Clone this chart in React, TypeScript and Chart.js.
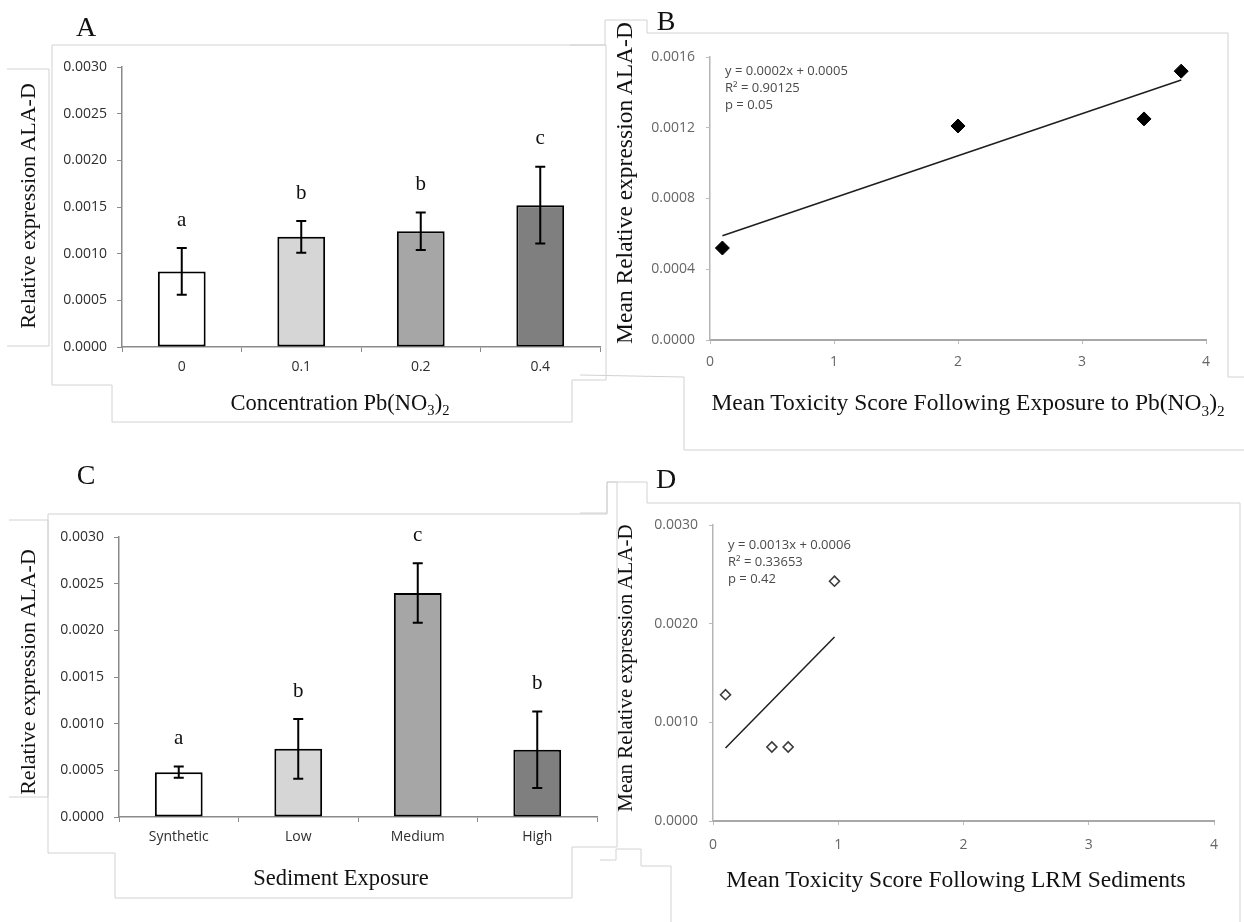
import React, { useEffect, useRef } from "react";
import { Chart, registerables } from "chart.js";

Chart.register(...registerables);

// A: ALA-D expression by Pb(NO3)2 concentration
const concentrationLabels = ["0", "0.1", "0.2", "0.4"];
const concentrationMeans = [0.00081, 0.00118, 0.00124, 0.00152];
const concentrationErrors = [0.00025, 0.00017, 0.0002, 0.00041];
const concentrationGroups = ["a", "b", "b", "c"];

// C: ALA-D expression by sediment exposure
const sedimentLabels = ["Synthetic", "Low", "Medium", "High"];
const sedimentMeans = [0.00048, 0.00073, 0.0024, 0.00072];
const sedimentErrors = [0.00006, 0.00032, 0.00032, 0.00041];
const sedimentGroups = ["a", "b", "c", "b"];

// B: mean expression vs. toxicity score, Pb(NO3)2
const leadToxicity = [0.1, 2.0, 3.5, 3.8];
const leadExpression = [0.00052, 0.00121, 0.00125, 0.00152];
const leadFitText = ["y = 0.0002x + 0.0005", "R\u00b2 = 0.90125", "p = 0.05"];

// D: mean expression vs. toxicity score, LRM sediments
const lrmToxicity = [0.1, 0.47, 0.6, 0.97];
const lrmExpression = [0.00128, 0.00075, 0.00075, 0.00243];
const lrmFitText = ["y = 0.0013x + 0.0006", "R\u00b2 = 0.33653", "p = 0.42"];

// axis ranges
const barAxisMax = 0.003;
const barAxisStep = 0.0005;
const leadAxisMax = 0.0016;
const leadAxisStep = 0.0004;
const lrmAxisMax = 0.003;
const lrmAxisStep = 0.001;
const toxicityAxisMax = 4;

const barFills = ["#ffffff", "#d6d6d6", "#a6a6a6", "#7f7f7f"];

const TICK_FONT = { family: '"Open Sans", sans-serif', size: 14 };

function fitLine(xs: number[], ys: number[]) {
  const n = xs.length;
  const mx = xs.reduce((a, b) => a + b, 0) / n;
  const my = ys.reduce((a, b) => a + b, 0) / n;
  let sxy = 0;
  let sxx = 0;
  for (let i = 0; i < n; i++) {
    sxy += (xs[i] - mx) * (ys[i] - my);
    sxx += (xs[i] - mx) * (xs[i] - mx);
  }
  const slope = sxy / sxx;
  return { slope, intercept: my - slope * mx };
}

function errorBarPlugin(errors: number[], groups: string[]) {
  return {
    id: "errorBars",
    afterDatasetsDraw(chart: any) {
      const { ctx } = chart;
      const meta = chart.getDatasetMeta(0);
      const yScale = chart.scales.y;
      const values = chart.data.datasets[0].data as number[];
      ctx.save();
      ctx.strokeStyle = "#000";
      ctx.lineWidth = 2;
      meta.data.forEach((bar: any, i: number) => {
        const top = yScale.getPixelForValue(values[i] + errors[i]);
        const bottom = yScale.getPixelForValue(values[i] - errors[i]);
        const x = bar.x;
        ctx.beginPath();
        ctx.moveTo(x, top);
        ctx.lineTo(x, bottom);
        ctx.moveTo(x - 5, top);
        ctx.lineTo(x + 5, top);
        ctx.moveTo(x - 5, bottom);
        ctx.lineTo(x + 5, bottom);
        ctx.stroke();
        ctx.fillStyle = "#111";
        ctx.font = '21px "Liberation Serif", serif';
        ctx.textAlign = "center";
        ctx.textBaseline = "middle";
        ctx.fillText(groups[i], x, top - 28);
      });
      ctx.restore();
    },
  };
}

function fitTextPlugin(lines: string[], dx: number, dy: number, step: number) {
  return {
    id: "fitText",
    afterDatasetsDraw(chart: any) {
      const { ctx, chartArea } = chart;
      ctx.save();
      ctx.font = '13px "Open Sans", sans-serif';
      ctx.fillStyle = "#4a4a4a";
      ctx.textAlign = "left";
      ctx.textBaseline = "middle";
      lines.forEach((t, i) => ctx.fillText(t, chartArea.left + dx, chartArea.top + dy + i * step));
      ctx.restore();
    },
  };
}

function barConfig(
  labels: string[],
  means: number[],
  errors: number[],
  groups: string[],
  box: { top: number; right: number; yWidth: number; xHeight: number }
): any {
  return {
    type: "bar",
    data: {
      labels,
      datasets: [
        {
          data: means,
          backgroundColor: barFills,
          borderColor: "#000",
          borderWidth: 2,
          borderSkipped: false,
          barPercentage: 0.4,
          categoryPercentage: 1,
        },
      ],
    },
    options: {
      animation: false,
      responsive: false,
      maintainAspectRatio: false,
      layout: { padding: { top: box.top, right: box.right, left: 0, bottom: 0 } },
      plugins: { legend: { display: false }, tooltip: { enabled: false } },
      scales: {
        x: {
          grid: { drawOnChartArea: false, drawTicks: true, tickLength: 5, color: "#8a8a8a", offset: true },
          border: { color: "#8a8a8a", width: 1.5 },
          ticks: { font: TICK_FONT, color: "#2e2e2e", padding: 7 },
          afterFit: (s: any) => {
            s.height = box.xHeight;
          },
        },
        y: {
          min: 0,
          max: barAxisMax,
          grid: { drawOnChartArea: false, drawTicks: true, tickLength: 5, color: "#8a8a8a" },
          border: { color: "#8a8a8a", width: 1.5 },
          ticks: {
            stepSize: barAxisStep,
            font: TICK_FONT,
            color: "#2e2e2e",
            padding: 10,
            callback: (v: number) => v.toFixed(4),
          },
          afterFit: (s: any) => {
            s.width = box.yWidth;
          },
        },
      },
    },
    plugins: [errorBarPlugin(errors, groups)],
  };
}

function scatterConfig(
  xs: number[],
  ys: number[],
  yMax: number,
  yStep: number,
  filled: boolean,
  fitText: string[],
  textOffset: number,
  box: { top: number; right: number; yWidth: number; xHeight: number; xPad: number }
): any {
  const { slope, intercept } = fitLine(xs, ys);
  const x0 = Math.min(...xs);
  const x1 = Math.max(...xs);
  return {
    type: "scatter",
    data: {
      datasets: [
        {
          data: xs.map((x, i) => ({ x, y: ys[i] })),
          pointStyle: "rectRot",
          pointRadius: filled ? 7 : 5,
          backgroundColor: filled ? "#000" : "#fff",
          borderColor: filled ? "#000" : "#3a3a3a",
          borderWidth: filled ? 1 : 1.6,
        },
        {
          data: [
            { x: x0, y: intercept + slope * x0 },
            { x: x1, y: intercept + slope * x1 },
          ],
          showLine: true,
          pointRadius: 0,
          borderColor: "#1e1e1e",
          borderWidth: 1.5,
        },
      ],
    },
    options: {
      animation: false,
      responsive: false,
      maintainAspectRatio: false,
      layout: { padding: { top: box.top, right: box.right, left: 0, bottom: 0 } },
      plugins: { legend: { display: false }, tooltip: { enabled: false } },
      scales: {
        x: {
          type: "linear",
          min: 0,
          max: toxicityAxisMax,
          grid: { drawOnChartArea: false, drawTicks: true, tickLength: 4, color: "#bdbdbd" },
          border: { color: "#a8a8a8", width: 2 },
          ticks: { stepSize: 1, font: TICK_FONT, color: "#666", padding: box.xPad },
          afterFit: (s: any) => {
            s.height = box.xHeight;
          },
        },
        y: {
          min: 0,
          max: yMax,
          grid: { drawOnChartArea: false, drawTicks: true, tickLength: 4, color: "#bdbdbd" },
          border: { color: "#b5b5b5", width: 1.5 },
          ticks: {
            stepSize: yStep,
            font: TICK_FONT,
            color: "#666",
            padding: 11,
            callback: (v: number) => v.toFixed(4),
          },
          afterFit: (s: any) => {
            s.width = box.yWidth;
          },
        },
      },
    },
    plugins: [fitTextPlugin(fitText, 15, textOffset, 17)],
  };
}

function ChartCanvas({
  left,
  top,
  width,
  height,
  config,
}: {
  left: number;
  top: number;
  width: number;
  height: number;
  config: () => any;
}) {
  const ref = useRef<HTMLCanvasElement | null>(null);
  useEffect(() => {
    if (!ref.current) return;
    const chart = new Chart(ref.current, config());
    return () => chart.destroy();
  }, []);
  return (
    <canvas
      ref={ref}
      width={width}
      height={height}
      style={{ position: "absolute", left, top, width, height }}
    />
  );
}

function Text({
  x,
  y,
  size,
  rotate,
  children,
}: {
  x: number;
  y: number;
  size: number;
  rotate?: boolean;
  children: React.ReactNode;
}) {
  return (
    <div
      style={{
        position: "absolute",
        left: x,
        top: y,
        transform: `translate(-50%, -50%)${rotate ? " rotate(-90deg)" : ""}`,
        fontSize: size,
        lineHeight: 1,
        whiteSpace: "nowrap",
        color: "#111",
      }}
    >
      {children}
    </div>
  );
}

const Sub = ({ children }: { children: React.ReactNode }) => (
  <sub style={{ fontSize: "0.65em", lineHeight: 0, verticalAlign: "-0.35em" }}>{children}</sub>
);

const frameLines: string[] = [
  "52,45 606,45 606,380 572,380 572,422 112,422 112,385 52,385 52,45",
  "7,69 49,69 49,346 7,346",
  "48,514 607,514 607,482 617,482 617,847 572,847 572,898 115,898 115,853 48,853 48,514",
  "9,520 48,520 48,797 9,797",
  "570,45 605,45 605,20 647,20 647,33 1228,33 1228,377 1244,377",
  "580,375 684,377 684,450 1244,450",
  "580,513 607,513 607,482 647,482 647,503 1240,503 1240,922",
  "600,860 616,860 616,849 641,849 641,866 671,866 671,922",
];

export default function App() {
  return (
    <div
      style={{
        position: "absolute",
        left: 0,
        top: 0,
        width: 1244,
        height: 922,
        background: "#fff",
        overflow: "hidden",
        fontFamily: '"Liberation Serif", "Times New Roman", serif',
      }}
    >
      <svg width={1244} height={922} style={{ position: "absolute", left: 0, top: 0 }}>
        {frameLines.map((p, i) => (
          <polyline key={i} points={p} fill="none" stroke="#d2d2d2" strokeWidth={1} />
        ))}
      </svg>

      <ChartCanvas
        left={0}
        top={0}
        width={620}
        height={430}
        config={() =>
          barConfig(concentrationLabels, concentrationMeans, concentrationErrors, concentrationGroups, {
            top: 67,
            right: 20,
            yWidth: 122,
            xHeight: 83,
          })
        }
      />
      <ChartCanvas
        left={0}
        top={470}
        width={620}
        height={400}
        config={() =>
          barConfig(sedimentLabels, sedimentMeans, sedimentErrors, sedimentGroups, {
            top: 67,
            right: 23,
            yWidth: 119,
            xHeight: 53,
          })
        }
      />
      <ChartCanvas
        left={610}
        top={0}
        width={634}
        height={390}
        config={() =>
          scatterConfig(leadToxicity, leadExpression, leadAxisMax, leadAxisStep, true, leadFitText, 14, {
            top: 57,
            right: 38,
            yWidth: 100,
            xHeight: 50,
            xPad: 10,
          })
        }
      />
      <ChartCanvas
        left={610}
        top={460}
        width={634}
        height={400}
        config={() =>
          scatterConfig(lrmToxicity, lrmExpression, lrmAxisMax, lrmAxisStep, false, lrmFitText, 20, {
            top: 65,
            right: 30,
            yWidth: 103,
            xHeight: 39,
            xPad: 12,
          })
        }
      />

      <Text x={86} y={27} size={28}>A</Text>
      <Text x={666} y={21} size={28}>B</Text>
      <Text x={86} y={475} size={28}>C</Text>
      <Text x={666} y={479} size={28}>D</Text>

      <Text x={28} y={206} size={22} rotate>Relative expression ALA-D</Text>
      <Text x={340} y={403} size={22.5}>
        Concentration Pb(NO<Sub>3</Sub>)<Sub>2</Sub>
      </Text>

      <Text x={625} y={183} size={23.5} rotate>Mean Relative expression ALA-D</Text>
      <Text x={968} y={403} size={23.5}>
        Mean Toxicity Score Following Exposure to Pb(NO<Sub>3</Sub>)<Sub>2</Sub>
      </Text>

      <Text x={28} y={672} size={22} rotate>Relative expression ALA-D</Text>
      <Text x={341} y={878} size={22.5}>Sediment Exposure</Text>

      <Text x={625} y={668} size={21} rotate>Mean Relative expression ALA-D</Text>
      <Text x={956} y={880} size={23.5}>Mean Toxicity Score Following LRM Sediments</Text>
    </div>
  );
}
